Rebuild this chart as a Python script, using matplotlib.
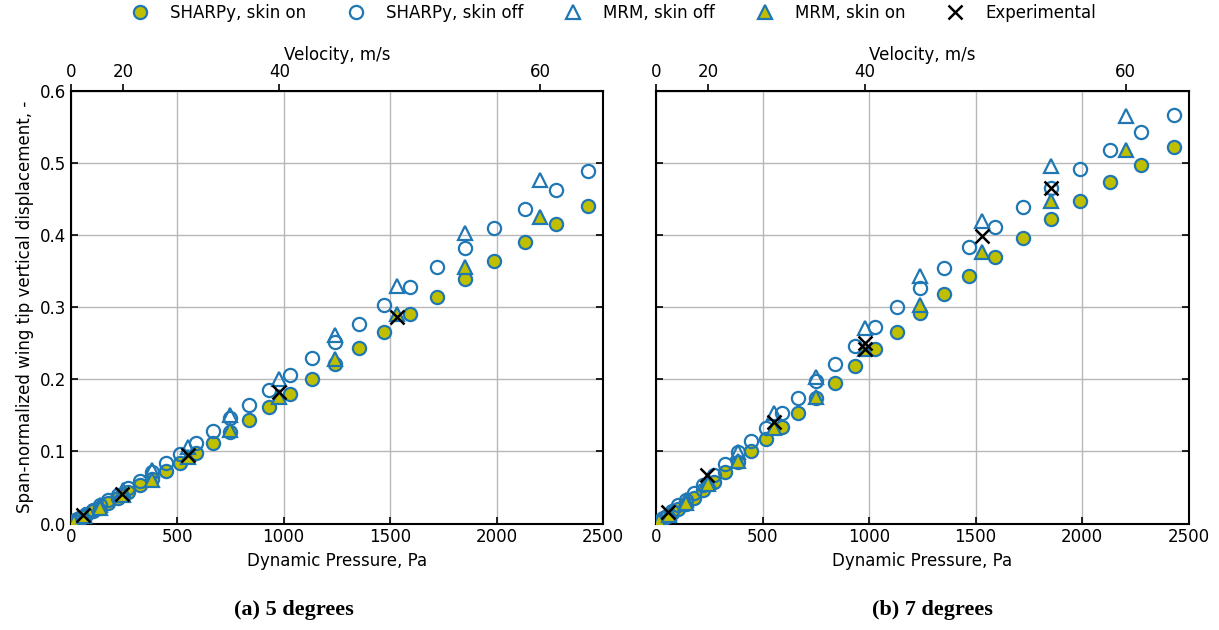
import numpy as np
import matplotlib
matplotlib.use("Agg")
import matplotlib.pyplot as plt

RHO = 1.225  # air density used for q = 1/2 rho v^2

# SHARPy runs (velocities in m/s)
v_sharpy = [3, 5, 7, 9, 11, 13, 15, 17, 19, 21, 23, 25, 27, 29, 31, 33,
            35, 37, 39, 41, 43, 45, 47, 49, 51, 53, 55, 57, 59, 61, 63]
# MRM runs
v_mrm = [5, 10, 15, 20, 25, 30, 35, 40, 45, 50, 55, 60]

# ---- (a) 5 degrees ----
sharpy_on_5 = [0.001, 0.0025, 0.005, 0.008, 0.012, 0.017, 0.022, 0.029, 0.036, 0.044,
               0.053, 0.062, 0.073, 0.084, 0.098, 0.112, 0.127, 0.143, 0.162, 0.180,
               0.200, 0.221, 0.244, 0.266, 0.290, 0.3145, 0.339, 0.364, 0.390, 0.415, 0.440]
sharpy_off_5 = [0.001, 0.003, 0.006, 0.009, 0.013, 0.019, 0.025, 0.032, 0.040, 0.049,
                0.059, 0.0716, 0.084, 0.096, 0.112, 0.128, 0.1457, 0.164, 0.185, 0.206,
                0.229, 0.252, 0.2766, 0.3025, 0.3284, 0.3553, 0.3825, 0.4094, 0.4362, 0.463, 0.489]
mrm_off_5 = [0.003, 0.012, 0.026, 0.046, 0.074, 0.106, 0.150, 0.200, 0.261, 0.329, 0.4025, 0.476]
mrm_on_5 = [0.002, 0.010, 0.022, 0.040, 0.060, 0.0925, 0.1295, 0.175, 0.2276, 0.290, 0.355, 0.4247]
v_exp_5 = [9.7, 19.9, 30, 40, 50]
exp_5 = [0.0125, 0.0416, 0.0945, 0.182, 0.2868]

# ---- (b) 7 degrees ----
sharpy_on_7 = [0.001, 0.003, 0.006, 0.010, 0.014, 0.020, 0.027, 0.036, 0.046, 0.058,
               0.0716, 0.0855, 0.1008, 0.1166, 0.134, 0.1535, 0.1735, 0.195, 0.2183, 0.2415,
               0.266, 0.2915, 0.3178, 0.3432, 0.370, 0.3964, 0.4223, 0.4478, 0.4728, 0.497, 0.5213]
sharpy_off_7 = [0.001, 0.003, 0.007, 0.011, 0.017, 0.025, 0.033, 0.043, 0.054, 0.067,
                0.0823, 0.0994, 0.1147, 0.133, 0.153, 0.174, 0.198, 0.221, 0.246, 0.272,
                0.300, 0.327, 0.3548, 0.383, 0.411, 0.4394, 0.4658, 0.492, 0.518, 0.5421, 0.5667]
mrm_off_7 = [0.004, 0.015, 0.033, 0.060, 0.0994, 0.1527, 0.2035, 0.2706, 0.3437, 0.420, 0.495, 0.5643]
mrm_on_7 = [0.003, 0.012, 0.0286, 0.0545, 0.0869, 0.132, 0.1757, 0.2415, 0.3025, 0.376, 0.4478, 0.5177]
v_exp_7 = [9.5, 19.8, 30, 40, 40, 50, 55]
exp_7 = [0.016, 0.067, 0.141, 0.2507, 0.2415, 0.399, 0.465]

captions = ['(a) 5 degrees', '(b) 7 degrees']

BLUE = '#1f77b4'
OLIVE = '#bfbf00'


def v2q(v):
    return 0.5 * RHO * np.asarray(v, dtype=float) ** 2


def q2v(q):
    q = np.asarray(q, dtype=float)
    return np.sqrt(np.clip(2.0 * q / RHO, 0, None))


plt.rcParams['font.size'] = 12

fig, axes = plt.subplots(1, 2, figsize=(12.19, 6.30), dpi=100, sharey=True)
fig.subplots_adjust(left=0.058, right=0.975, bottom=0.169, top=0.856, wspace=0.1)

datasets = [
    (sharpy_on_5, sharpy_off_5, mrm_off_5, mrm_on_5, v_exp_5, exp_5),
    (sharpy_on_7, sharpy_off_7, mrm_off_7, mrm_on_7, v_exp_7, exp_7),
]

for ax, (s_on, s_off, m_off, m_on, v_e, d_e) in zip(axes, datasets):
    ax.plot(v2q(v_sharpy), s_on, 'o', ms=9.5, mfc=OLIVE, mec=BLUE, mew=1.6,
            label='SHARPy, skin on', zorder=3)
    ax.plot(v2q(v_sharpy), s_off, 'o', ms=9.5, mfc='none', mec=BLUE, mew=1.6,
            label='SHARPy, skin off', zorder=3)
    ax.plot(v2q(v_mrm), m_off, '^', ms=9.5, mfc='none', mec=BLUE, mew=1.6,
            label='MRM, skin off', zorder=3)
    ax.plot(v2q(v_mrm), m_on, '^', ms=9.5, mfc=OLIVE, mec=BLUE, mew=1.6,
            label='MRM, skin on', zorder=3)
    ax.plot(v2q(v_e), d_e, 'x', ms=10, mec='black', mew=1.8,
            label='Experimental', zorder=4)

    ax.set_xlim(0, 2500)
    ax.set_ylim(0, 0.6)
    ax.set_xticks(np.arange(0, 2501, 500))
    ax.set_yticks(np.arange(0, 0.61, 0.1))
    ax.grid(True, color='#b8b8b8', linewidth=1.0)
    ax.set_axisbelow(True)
    ax.tick_params(direction='in', length=5, width=1.2, left=True, right=True,
                   bottom=True, top=False)
    for sp in ax.spines.values():
        sp.set_linewidth(1.5)
    ax.set_xlabel('Dynamic Pressure, Pa')

    sec = ax.secondary_xaxis('top', functions=(q2v, v2q))
    sec.set_xticks([0, 20, 40, 60])
    sec.tick_params(direction='out', length=5, width=1.2, pad=2)
    sec.set_xlabel('Velocity, m/s', labelpad=2)

axes[0].set_ylabel('Span-normalized wing tip vertical displacement, -')
axes[1].tick_params(labelleft=False)

# sub-figure captions
fig.text(0.241, 0.032, captions[0], ha='center', va='center',
         fontsize=16, fontweight='bold', family='Liberation Serif')
fig.text(0.765, 0.032, captions[1], ha='center', va='center',
         fontsize=16, fontweight='bold', family='Liberation Serif')

handles, labels = axes[0].get_legend_handles_labels()
fig.legend(handles, labels, loc='upper center', bbox_to_anchor=(0.5, 1.018),
           ncol=5, frameon=False, fontsize=12)

fig.savefig('out.png', dpi=100)
